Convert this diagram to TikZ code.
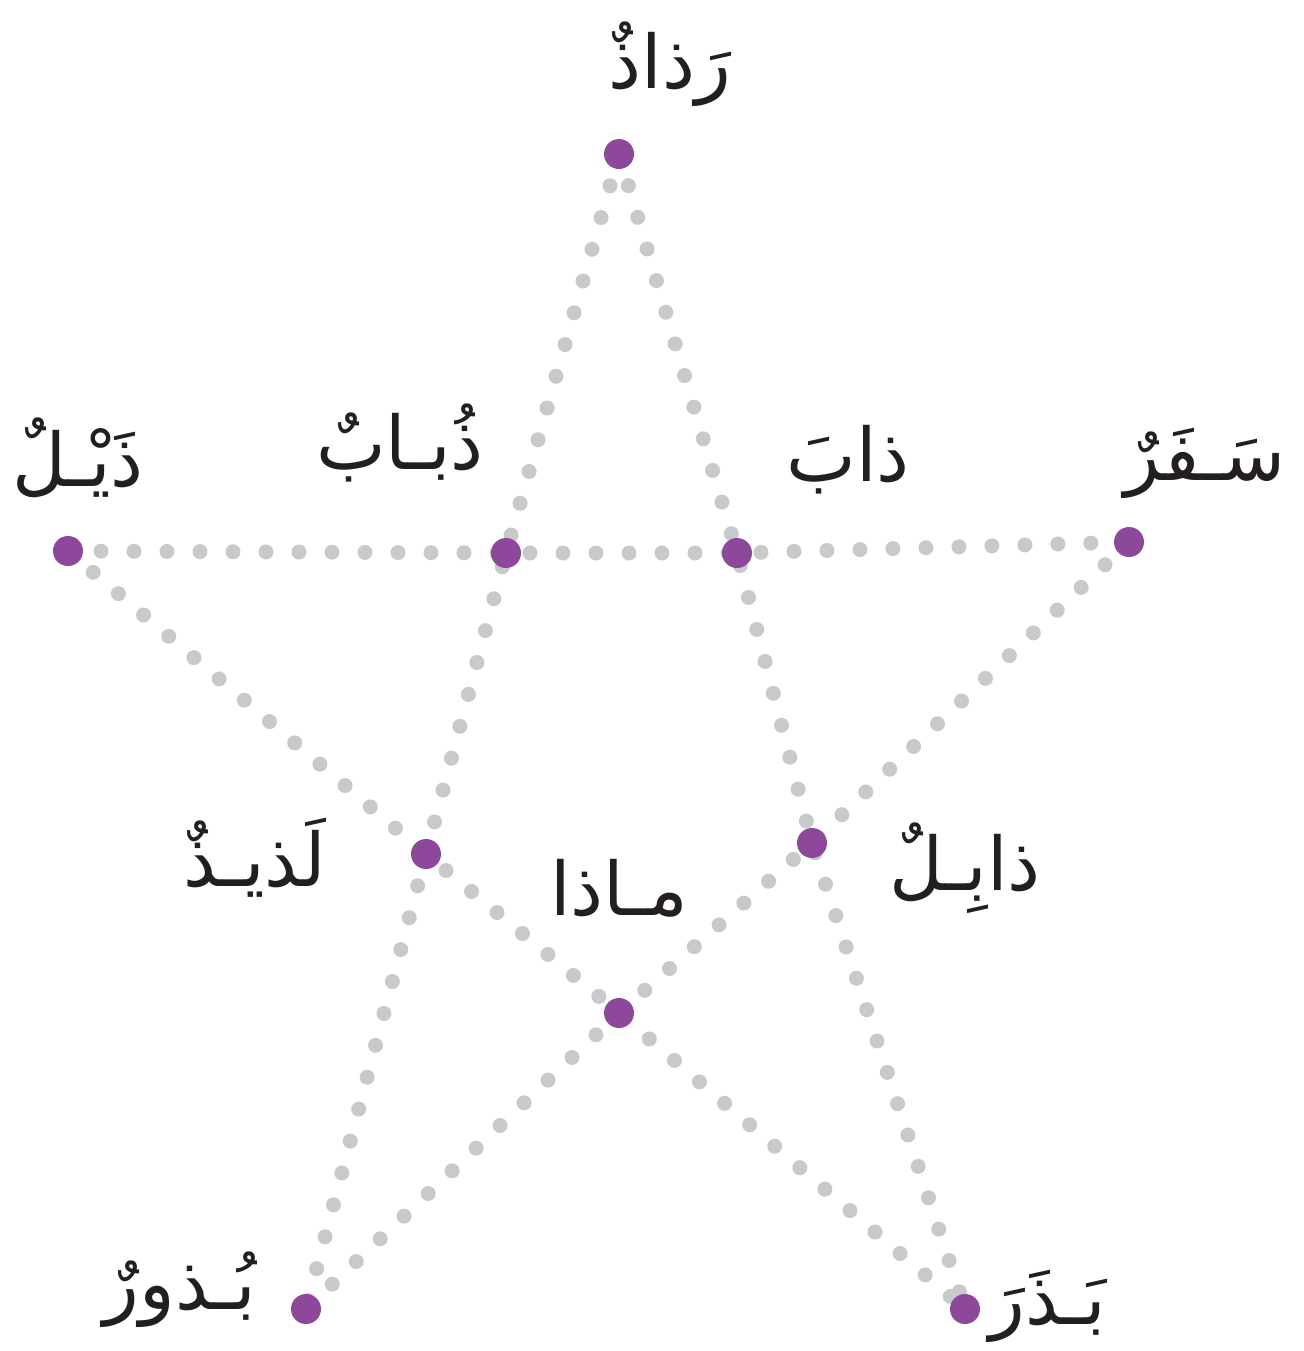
\documentclass[tikz,border=0pt]{standalone}
\usepackage{fontspec}
\TeXXeTstate=1
\newfontfamily\arabicfont[Script=Arabic]{DejaVu Sans}
\definecolor{dotgrey}{RGB}{200,201,203}
\definecolor{vpurple}{RGB}{142,72,155}
\definecolor{ink}{RGB}{35,31,32}
\tikzset{
  dotline/.style={draw=dotgrey, line width=7.5pt, line cap=round, dash pattern=on 0pt off 16.5pt},
  vdot/.style={circle, fill=vpurple, draw=none, minimum size=15pt, inner sep=0pt},
  word/.style={text=ink, font=\arabicfont\fontsize{37}{44}\selectfont, inner sep=0pt}
}
\begin{document}
\begin{tikzpicture}[x=0.5pt,y=-0.5pt]
\useasboundingbox (0,0) rectangle (1303,1351);
% star points
\coordinate (T) at (619,154);
\coordinate (L) at (68,551);
\coordinate (R) at (1129,542);
\coordinate (BL) at (306,1309);
\coordinate (BR) at (965,1309);
\coordinate (IL) at (506,553);
\coordinate (IR) at (737,553);
\coordinate (ML) at (426,854);
\coordinate (MR) at (812,843);
\coordinate (MB) at (619,1013);
% dotted lines
\draw[dotline] (T) -- (IL) -- (ML) -- (BL);
\draw[dotline] (T) -- (IR) -- (MR) -- (BR);
\draw[dotline] (L) -- (IL) -- (IR) -- (R);
\draw[dotline] (L) -- (ML) -- (MB) -- (BR);
\draw[dotline] (R) -- (MR) -- (MB) -- (BL);
% purple dots
\foreach \p in {T,L,R,BL,BR,IL,IR,ML,MR,MB}
  \node[vdot] (d\p) at (\p) {};
% labels
\node[word] (w1) at (670,64) {\beginR رَذاذٌ\endR};
\node[word] (w2) at (78,458) {\beginR ذَيْـلٌ\endR};
\node[word] (w3) at (400,443) {\beginR ذُبـابٌ\endR};
\node[word] (w4) at (848,460) {\beginR ذابَ\endR};
\node[word] (w5) at (1205,463) {\beginR سَـفَرٌ\endR};
\node[word] (w6) at (255,858) {\beginR لَذيـذٌ\endR};
\node[word] (w7) at (619,888) {\beginR مـاذا\endR};
\node[word] (w8) at (965,868) {\beginR ذابِـلٌ\endR};
\node[word] (w9) at (180,1290) {\beginR بُـذورٌ\endR};
\node[word] (w10) at (1048,1306) {\beginR بَـذَرَ\endR};
\end{tikzpicture}
\end{document}
